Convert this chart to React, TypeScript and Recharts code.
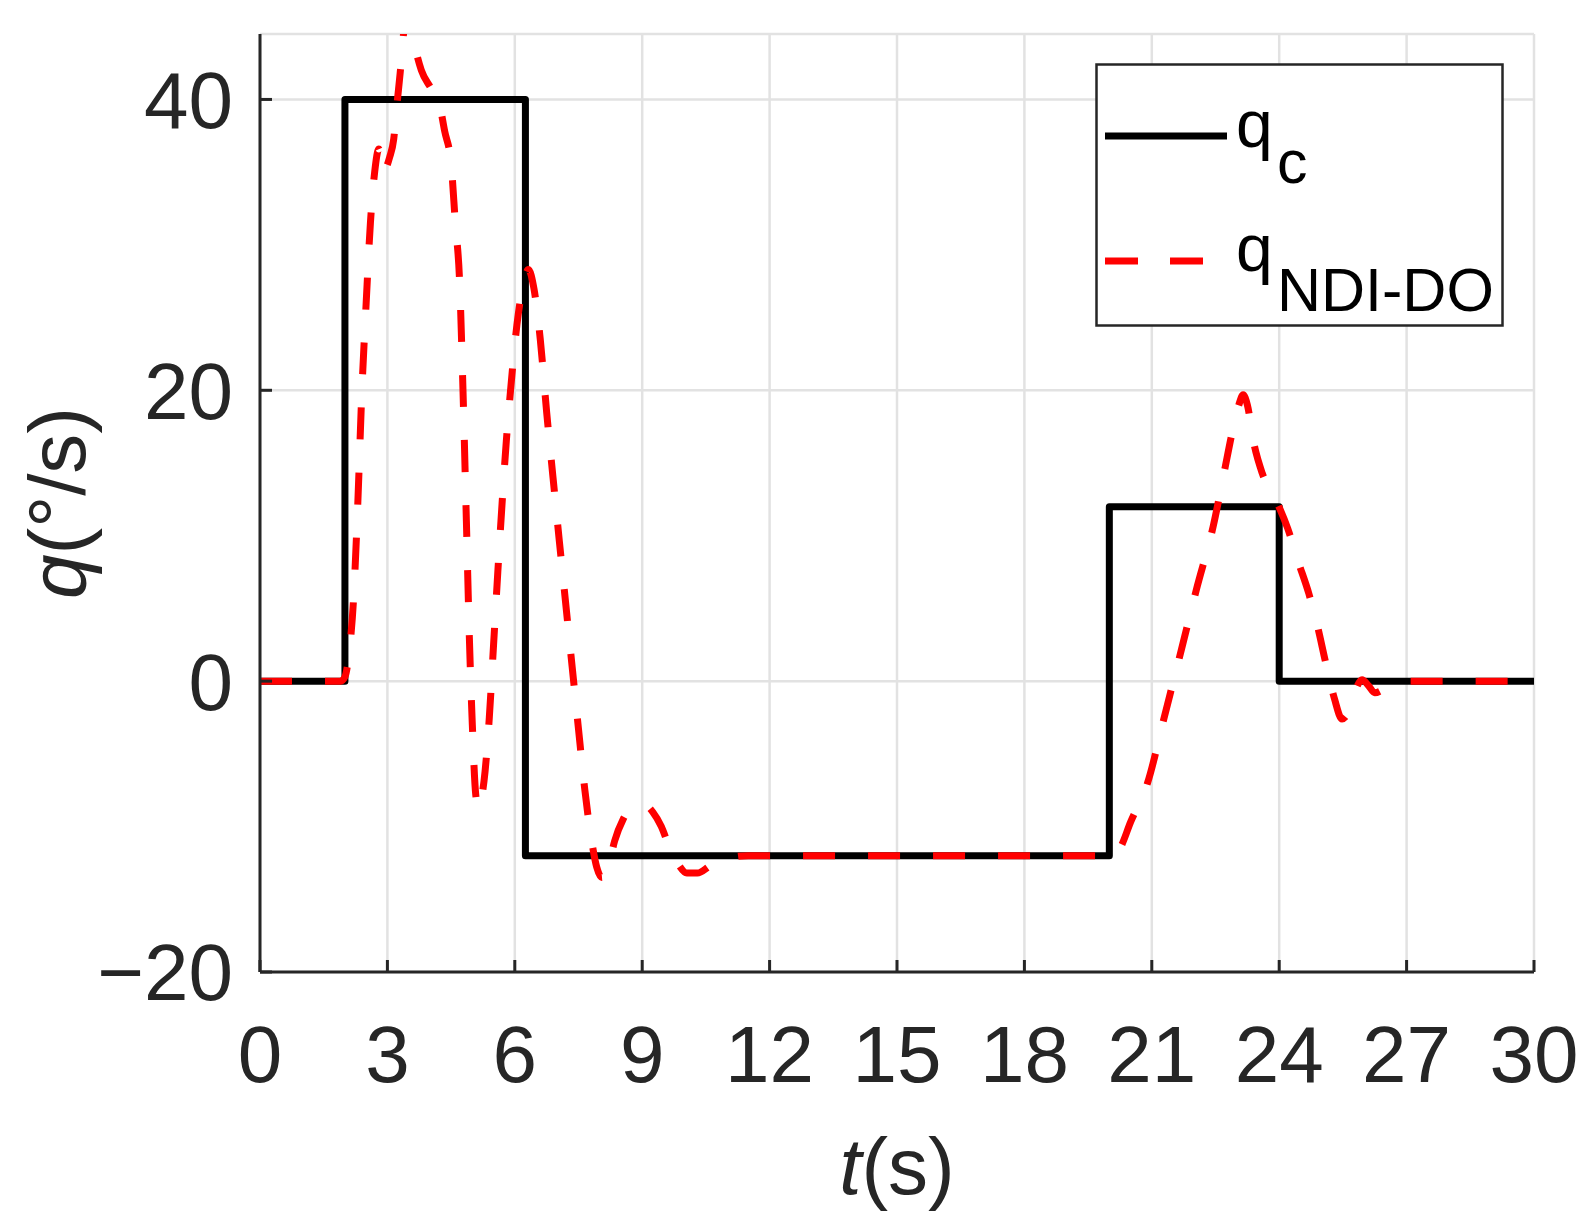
import React from 'react';
import { LineChart, Line, XAxis, YAxis, CartesianGrid, Legend, Label } from 'recharts';

const FONT = '"Liberation Sans", Arial, Helvetica, sans-serif';
const AXIS_COLOR = '#262626';

// Commanded pitch rate q_c (step profile)
const TIME_CMD = [0, 2, 2, 6.25, 6.25, 20, 20, 24, 24, 30];
const Q_CMD = [0, 0, 40, 40, -12, -12, 12, 12, 0, 0];

// NDI-DO response
const TIME_NDI = [
  0, 1.5, 1.9, 2.0, 2.1, 2.2, 2.3, 2.4, 2.5, 2.6, 2.7, 2.8, 2.86, 2.95, 3.05, 3.15, 3.22, 3.3, 3.4, 3.48,
  3.56, 3.66, 3.8, 4.0, 4.2, 4.35, 4.5, 4.6, 4.7, 4.78, 4.86, 4.93, 5.0, 5.08, 5.15, 5.22, 5.3, 5.4, 5.5,
  5.6, 5.7, 5.8, 5.9, 6.05, 6.2, 6.32, 6.45, 6.6, 6.75, 6.9, 7.05, 7.2, 7.35, 7.5, 7.65, 7.8, 7.93, 8.05,
  8.2, 8.35, 8.55, 8.8, 9.05, 9.25, 9.45, 9.65, 9.85, 10.05, 10.3, 10.6, 11.0, 11.5, 12, 20, 20.1, 20.25,
  20.5, 20.9, 21.3, 21.7, 22.05, 22.45, 22.7, 22.9, 23.05, 23.15, 23.25, 23.4, 23.6, 23.9, 24.2, 24.45,
  24.7, 24.9, 25.1, 25.3, 25.48, 25.65, 25.8, 25.95, 26.1, 26.25, 26.5, 27, 30,
];
const Q_NDI = [
  0, 0, 0, 0.3, 2, 5.5, 12, 20, 26, 31.5, 35, 36.6, 35, 35.2, 36, 37.3, 39.5, 41.8, 45, 45.8,
  45, 43.5, 42, 40.9, 40, 37.8, 35.6, 31.5, 27.5, 20, 11, 3, -3, -7.8, -8.8, -8, -6.2, -2.5, 2.5,
  7.5, 12.2, 16.5, 20, 24.5, 27.3, 28.3, 27, 23.5, 18.5, 14, 9.6, 5.3, 1, -3.3, -7.5, -10.8, -12.8, -13.5,
  -12.8, -11, -9.5, -8.6, -8.5, -9, -10, -11.5, -12.6, -13.2, -13.2, -12.7, -12.2, -12, -12, -12, -12, -11.5,
  -9.7, -7, -2.4, 2.2, 6.3, 10.7, 14.3, 17.2, 19, 19.7, 19, 16.4, 14.3, 12.6, 10.5, 8.2,
  6, 3.8, 1.2, -1.2, -2.6, -2, -0.6, 0.1, -0.3, -0.8, -0.5, 0, 0,
];

const X_TICKS = [0, 3, 6, 9, 12, 15, 18, 21, 24, 27, 30];
const Y_TICKS = [-20, 0, 20, 40];
const X_DOMAIN: [number, number] = [0, 30];
const Y_DOMAIN: [number, number] = [-20, 44.5];

const cmdData = TIME_CMD.map((t, i) => ({ t, q: Q_CMD[i] }));
const ndiData = TIME_NDI.map((t, i) => ({ t, q: Q_NDI[i] }));

const fmtY = (v: number) => (v < 0 ? '\u2212' + Math.abs(v) : String(v));

const tickStyle = { fill: AXIS_COLOR, fontSize: 80, fontFamily: FONT };
const lineStyle = { stroke: AXIS_COLOR, strokeWidth: 3 };

const XLabel = (props: any) => {
  const vb = props.viewBox || {};
  const cx = vb.x + vb.width / 2;
  const y = vb.y + 222;
  return (
    <text x={cx} y={y} textAnchor="middle" fontSize={80} fontFamily={FONT} fill={AXIS_COLOR}>
      <tspan fontStyle="italic">t</tspan>
      <tspan>(s)</tspan>
    </text>
  );
};

const YLabel = (props: any) => {
  const vb = props.viewBox || {};
  const x = vb.x + 25;
  const y = vb.y + vb.height / 2;
  return (
    <text
      x={x}
      y={y}
      transform={`rotate(-90, ${x}, ${y})`}
      textAnchor="middle"
      fontSize={80}
      fontFamily={FONT}
      fill={AXIS_COLOR}
    >
      <tspan fontStyle="italic">q</tspan>
      <tspan>(°/s)</tspan>
    </text>
  );
};

const LegendBox = () => (
  <svg width={409} height={264} style={{ display: 'block' }}>
    <rect x={1.5} y={1.5} width={406} height={261} fill="#ffffff" stroke={AXIS_COLOR} strokeWidth={2.5} />
    <line x1={10} x2={132} y1={73} y2={73} stroke="#000000" strokeWidth={7} />
    <text x={141} y={84} fontSize={66} fontFamily={FONT} fill="#000000">q</text>
    <text x={182} y={120} fontSize={61} fontFamily={FONT} fill="#000000">c</text>
    <line x1={10} x2={132} y1={198} y2={198} stroke="#ff0000" strokeWidth={7} strokeDasharray="33 32" />
    <text x={141} y={208} fontSize={66} fontFamily={FONT} fill="#000000">q</text>
    <text x={182} y={248} fontSize={61} fontFamily={FONT} fill="#000000">NDI-DO</text>
  </svg>
);

export default function App() {
  return (
    <div style={{ width: 1574, height: 1212, background: '#ffffff' }}>
      <LineChart width={1574} height={1212} margin={{ top: 26, right: 48, bottom: 88, left: 52 }}>
        <CartesianGrid stroke="#e2e2e2" strokeWidth={2.5} />
        <XAxis
          dataKey="t"
          type="number"
          domain={X_DOMAIN}
          ticks={X_TICKS}
          allowDataOverflow
          height={160}
          tickSize={-12}
          tickMargin={65}
          tick={tickStyle}
          tickLine={lineStyle}
          axisLine={lineStyle}
        >
          <Label content={XLabel} />
        </XAxis>
        <XAxis
          xAxisId="top"
          orientation="top"
          type="number"
          domain={X_DOMAIN}
          ticks={X_TICKS}
          allowDataOverflow
          height={0}
          tickSize={-12}
          tick={false}
          tickLine={lineStyle}
          axisLine={lineStyle}
        />
        <YAxis
          type="number"
          domain={Y_DOMAIN}
          ticks={Y_TICKS}
          allowDataOverflow
          width={200}
          tickSize={-12}
          tickMargin={39}
          tick={tickStyle}
          tickFormatter={fmtY}
          tickLine={lineStyle}
          axisLine={lineStyle}
        >
          <Label content={YLabel} />
        </YAxis>
        <YAxis
          yAxisId="right"
          orientation="right"
          type="number"
          domain={Y_DOMAIN}
          ticks={Y_TICKS}
          allowDataOverflow
          width={0}
          tickSize={-12}
          tick={false}
          tickLine={lineStyle}
          axisLine={lineStyle}
        />
        <Line
          data={cmdData}
          dataKey="q"
          name="q_c"
          type="linear"
          stroke="#000000"
          strokeWidth={7}
          strokeLinejoin="round"
          dot={false}
          activeDot={false}
          isAnimationActive={false}
        />
        <Line
          data={ndiData}
          dataKey="q"
          name="q_NDI-DO"
          type="monotone"
          stroke="#ff0000"
          strokeWidth={7}
          strokeDasharray="32 33"
          dot={false}
          activeDot={false}
          isAnimationActive={false}
        />
        <Legend
          layout="vertical"
          align="center"
          verticalAlign="middle"
          content={LegendBox}
          wrapperStyle={{ left: 1087, top: 55, width: 409, height: 264 }}
        />
      </LineChart>
    </div>
  );
}
